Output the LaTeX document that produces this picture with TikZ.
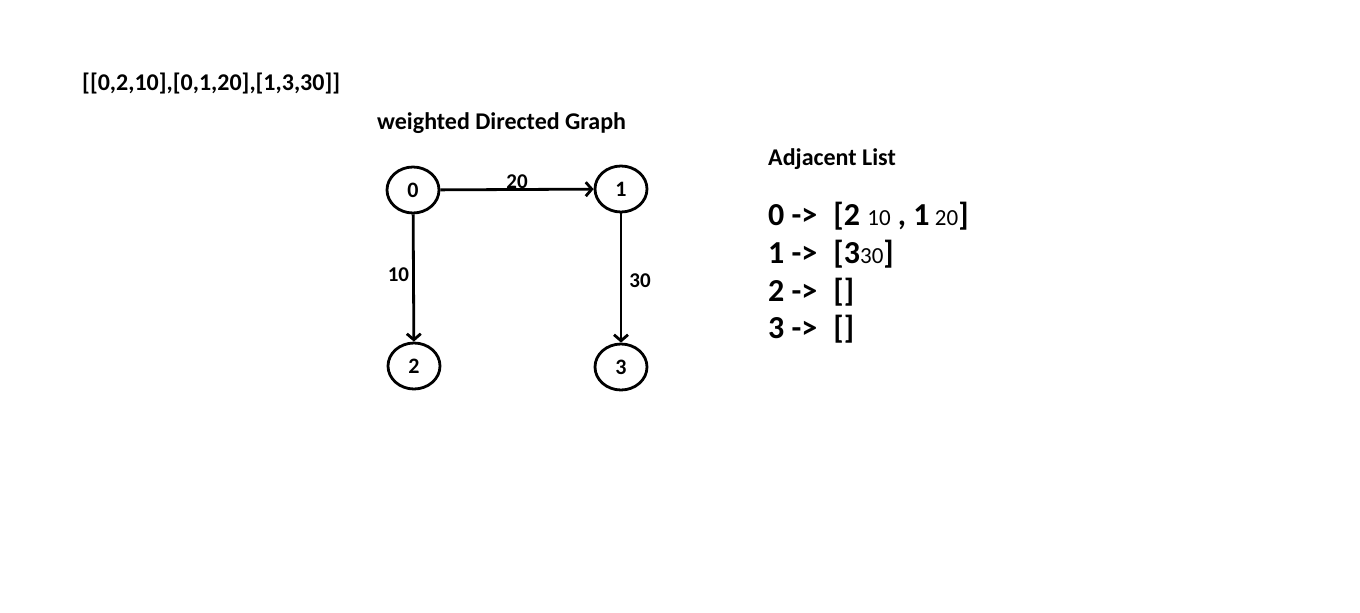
\documentclass[tikz,border=0pt]{standalone}
\usepackage{fontspec}
\setmainfont{Carlito}
\usetikzlibrary{arrows.meta,shapes.geometric}
\tikzset{>={Straight Barb[length=6pt,width=14pt,line width=2.8pt]}}
\tikzstyle{vertex}=[ellipse,draw,line width=2.8pt,minimum width=52pt,minimum height=46pt,inner sep=0,font=\fontsize{22}{26}\selectfont\bfseries]
\tikzstyle{weight}=[inner sep=2pt,font=\fontsize{21}{25}\selectfont\bfseries]
\tikzstyle{title}=[anchor=base west,inner sep=0,font=\fontsize{24}{28}\selectfont\bfseries]
\tikzstyle{row}=[anchor=base west,inner sep=0,font=\fontsize{32}{36}\selectfont\bfseries]
\newcommand{\wt}[1]{{\fontsize{23}{27}\selectfont\mdseries #1}}

\begin{document}
\begin{tikzpicture}[x=1pt,y=-1pt]
 \useasboundingbox (0,0) rectangle (1360,613);
 % edge list
 \node[title] (edges) at (82,90) {[[0,2,10],[0,1,20],[1,3,30]]};
 \node[title] (gtitle) at (377,129) {weighted Directed Graph};
 %
 \node[vertex] (n0) at (413,190) {0};
 \node[vertex] (n1) at (621,189) {1};
 \node[vertex] (n2) at (414,366) {2};
 \node[vertex] (n3) at (621,367) {3};
 \draw[->,line width=2.8pt] (n0) -- node[weight,above,yshift=-3pt]{20} (n1);
 \draw[->,line width=2.8pt] (n0) -- node[weight,left,xshift=-1pt,yshift=3pt]{10} (n2);
 \draw[->,line width=2.8pt] (n1) -- node[weight,right,xshift=5pt,yshift=-3pt]{30} (n3);
 %
 \node[title] (ltitle) at (768,165) {Adjacent List};
 \node[row] (r0) at (768,225) {0 -> \;[2 \wt{10} , 1\,\wt{20}]};
 \node[row] (r1) at (768,263) {1 -> \;[3\wt{30}]};
 \node[row] (r2) at (768,301) {2 -> \;[]};
 \node[row] (r3) at (768,338) {3 -> \;[]};
\end{tikzpicture}
\end{document}
